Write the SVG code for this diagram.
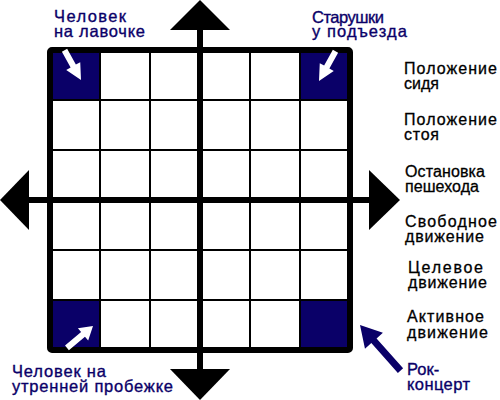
<svg xmlns="http://www.w3.org/2000/svg" width="500" height="400" viewBox="0 0 500 400">
<style>
.cell{fill:#0a0068}
.grid{stroke:#000;stroke-width:2;fill:none}
.axis{stroke:#000;stroke-width:6}
.head{fill:#000}
.lbl{font-family:"Liberation Sans",Arial,sans-serif;font-size:16.5px;fill:#0a0068;stroke:#0a0068;stroke-width:0.35}
.side{font-family:"Liberation Sans",Arial,sans-serif;font-size:16px;fill:#000;stroke:#000;stroke-width:0.3}
.warrow{fill:#fff}
</style>
<rect width="500" height="400" fill="#fff"/>
<g id="grid">
<rect class="cell" x="50" y="50" width="50" height="50"/>
<rect class="cell" x="300" y="50" width="50" height="50"/>
<rect class="cell" x="50" y="300" width="50" height="50"/>
<rect class="cell" x="300" y="300" width="50" height="50"/>
<path class="grid" d="M100 50V350M150 50V350M250 50V350M300 50V350M50 100H350M50 150H350M50 250H350M50 300H350"/>
<rect x="50" y="50" width="300" height="300" rx="2" fill="none" stroke="#000" stroke-width="6"/>
</g>
<g id="axes">
<line class="axis" x1="200" y1="28" x2="200" y2="372"/>
<line class="axis" x1="28" y1="200" x2="372" y2="200"/>
<polygon class="head" points="200,0 230,30 170,30"/>
<polygon class="head" points="200,400 230,369 170,369"/>
<polygon class="head" points="0,200 29,170 29,230"/>
<polygon class="head" points="400,200 369,170 369,230"/>
</g>
<g id="cell-arrows">
<polygon class="warrow" transform="translate(81,80) rotate(61)" points="0,0 -16,-8 -16,-3 -34,-3 -34,3 -16,3 -16,8"/>
<polygon class="warrow" transform="translate(319,81) rotate(119)" points="0,0 -16,-8 -16,-3 -34,-3 -34,3 -16,3 -16,8"/>
<polygon class="warrow" transform="translate(93,326) rotate(-40)" points="0,0 -13,-8 -13,-3 -34,-3 -34,3 -13,3 -13,8"/>
</g>
<g id="rock-arrow">
<polygon fill="#0a0068" transform="translate(360,325) rotate(228.4)" points="0,0 -21,-12 -21,-3.5 -61,-3.5 -61,3.5 -21,3.5 -21,12"/>
</g>
<g id="labels-navy">
<text class="lbl" x="54" y="22" textLength="72" lengthAdjust="spacing">Человек</text>
<text class="lbl" x="54" y="37" textLength="91" lengthAdjust="spacing">на лавочке</text>
<text class="lbl" x="312" y="23" textLength="72" lengthAdjust="spacing">Старушки</text>
<text class="lbl" x="312" y="37" textLength="95" lengthAdjust="spacing">у подъезда</text>
<text class="lbl" x="12" y="377" textLength="94" lengthAdjust="spacing">Человек на</text>
<text class="lbl" x="12" y="392" textLength="161" lengthAdjust="spacing">утренней пробежке</text>
<text class="lbl" x="407" y="375">Рок-</text>
<text class="lbl" x="407" y="390" textLength="63" lengthAdjust="spacing">концерт</text>
</g>
<g id="labels-side">
<text class="side" x="404" y="74" textLength="93" lengthAdjust="spacing">Положение</text>
<text class="side" x="404" y="89" textLength="35" lengthAdjust="spacing">сидя</text>
<text class="side" x="404" y="125" textLength="93" lengthAdjust="spacing">Положение</text>
<text class="side" x="404" y="140" textLength="35" lengthAdjust="spacing">стоя</text>
<text class="side" x="405" y="177" textLength="80" lengthAdjust="spacing">Остановка</text>
<text class="side" x="405" y="192" textLength="74" lengthAdjust="spacing">пешехода</text>
<text class="side" x="405" y="227" textLength="92" lengthAdjust="spacing">Свободное</text>
<text class="side" x="405" y="242" textLength="79" lengthAdjust="spacing">движение</text>
<text class="side" x="408" y="273" textLength="75" lengthAdjust="spacing">Целевое</text>
<text class="side" x="408" y="288" textLength="79" lengthAdjust="spacing">движение</text>
<text class="side" x="407" y="322" textLength="77" lengthAdjust="spacing">Активное</text>
<text class="side" x="407" y="338" textLength="81" lengthAdjust="spacing">движение</text>
</g>
</svg>
